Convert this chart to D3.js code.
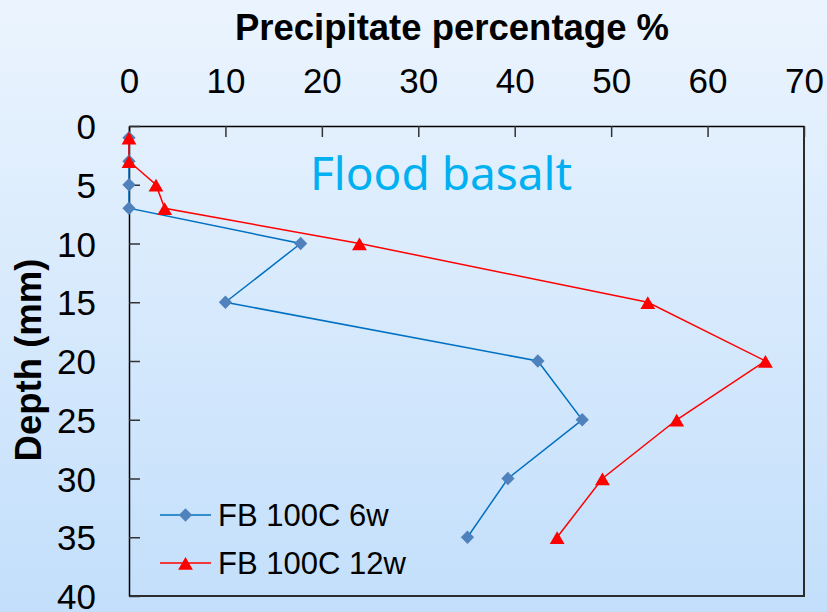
<!DOCTYPE html>
<html>
<head>
<meta charset="utf-8">
<script src="https://cdn.jsdelivr.net/npm/d3@7"></script>
<style>
  body { margin: 0; }
  text { font-family: "Liberation Sans", Arial, sans-serif; }
</style>
</head>
<body>
<div id="chart"></div>
<script>
var svgwidth = 827;
var svgheight = 612;

// data
var depth = [1, 3, 5, 7, 10, 15, 20, 25, 30, 35];
var fb6w = [0, 0, 0, 0, 17.8, 10, 42.4, 47, 39.3, 35.1];
var fb12w = [0, 0, 2.8, 3.7, 23.9, 53.8, 66, 56.8, 49.1, 44.4];
var xticks = [0, 10, 20, 30, 40, 50, 60, 70];
var yticks = [0, 5, 10, 15, 20, 25, 30, 35, 40];
var seriesNames = ["FB 100C 6w", "FB 100C 12w"];

var plot = { left: 129, right: 804, top: 126, bottom: 596 };

var svg = d3.select("#chart")
    .append("svg")
    .attr("width", svgwidth)
    .attr("height", svgheight);

var grad = svg.append("defs").append("linearGradient")
    .attr("id", "bg")
    .attr("x1", 0).attr("y1", 0).attr("x2", 0).attr("y2", 1);
grad.append("stop").attr("offset", "0%").attr("stop-color", "#ebf4fe");
grad.append("stop").attr("offset", "100%").attr("stop-color", "#c3dffb");

svg.append("rect")
    .attr("width", svgwidth)
    .attr("height", svgheight)
    .attr("fill", "url(#bg)");

var xscale = d3.scaleLinear().domain([0, 70]).range([plot.left, plot.right]);
var yscale = d3.scaleLinear().domain([0, 40]).range([plot.top, plot.bottom]);

// frame on right and bottom
svg.append("path")
    .attr("d", "M" + xscale(70) + "," + yscale(0) + "V" + yscale(40) + "H" + xscale(0))
    .attr("fill", "none")
    .attr("stroke", "#2b2b2b")
    .attr("stroke-width", 2);

var topaxis = d3.axisTop(xscale)
    .tickValues(xticks)
    .tickSizeInner(-11)
    .tickSizeOuter(0)
    .tickPadding(33);

var leftaxis = d3.axisLeft(yscale)
    .tickValues(yticks)
    .tickSizeInner(-11)
    .tickSizeOuter(0)
    .tickPadding(33);

var gx = svg.append("g")
    .attr("transform", "translate(0," + plot.top + ")")
    .call(topaxis);

var gy = svg.append("g")
    .attr("transform", "translate(" + plot.left + ",0)")
    .call(leftaxis);

[gx, gy].forEach(function(g) {
    g.select(".domain").attr("stroke", "#000").attr("stroke-width", 1.5);
    g.selectAll(".tick line").attr("stroke", "#333").attr("stroke-width", 1.5);
    g.selectAll(".tick text")
        .attr("fill", "#000")
        .style("font-size", "35px")
        .style("font-family", "'Liberation Sans', Arial, sans-serif");
});
gy.selectAll(".tick text").attr("dy", "0.36em");

// axis titles
svg.append("text")
    .attr("x", 452)
    .attr("y", 40)
    .attr("text-anchor", "middle")
    .style("font-size", "36.5px")
    .style("font-weight", "bold")
    .text("Precipitate percentage %");

svg.append("text")
    .attr("transform", "translate(41,360) rotate(-90)")
    .attr("text-anchor", "middle")
    .style("font-size", "36.5px")
    .style("font-weight", "bold")
    .text("Depth (mm)");

svg.append("text")
    .attr("x", 310)
    .attr("y", 190)
    .attr("fill", "#00b0f0")
    .style("font-family", "'Noto Sans', 'Open Sans', sans-serif")
    .style("font-size", "46px")
    .text("Flood basalt");

var line = d3.line()
    .x(function(d) { return xscale(d[0]); })
    .y(function(d) { return yscale(d[1]); });

var blueData = depth.map(function(d, i) { return [fb6w[i], d]; });
var redData = depth.map(function(d, i) { return [fb12w[i], d]; });

var diamond = d3.symbol().type(d3.symbolDiamond2).size(112);
var triangle = d3.symbol().type(d3.symbolTriangle).size(95);

svg.append("path")
    .datum(blueData)
    .attr("d", line)
    .attr("fill", "none")
    .attr("stroke", "#0070c0")
    .attr("stroke-width", 1.5);

svg.append("path")
    .datum(redData)
    .attr("d", line)
    .attr("fill", "none")
    .attr("stroke", "#ff0000")
    .attr("stroke-width", 1.5);

svg.selectAll(".blue")
    .data(blueData)
    .enter()
    .append("path")
    .attr("class", "blue")
    .attr("d", diamond)
    .attr("transform", function(d) { return "translate(" + xscale(d[0]) + "," + yscale(d[1]) + ")"; })
    .attr("fill", "#4f81bd");

svg.selectAll(".red")
    .data(redData)
    .enter()
    .append("path")
    .attr("class", "red")
    .attr("d", triangle)
    .attr("transform", function(d) { return "translate(" + xscale(d[0]) + "," + (yscale(d[1]) + 2.5) + ")"; })
    .attr("fill", "#ff0000");

// legend
var legend = [
    { name: seriesNames[0], color: "#0070c0", fill: "#4f81bd", sym: diamond, y: 515, dy: 0 },
    { name: seriesNames[1], color: "#ff0000", fill: "#ff0000", sym: triangle, y: 563, dy: 2.5 }
];

legend.forEach(function(l) {
    svg.append("line")
        .attr("x1", 160).attr("x2", 211)
        .attr("y1", l.y).attr("y2", l.y)
        .attr("stroke", l.color)
        .attr("stroke-width", 1.5);
    svg.append("path")
        .attr("d", l.sym)
        .attr("transform", "translate(185.5," + (l.y + l.dy) + ")")
        .attr("fill", l.fill);
    svg.append("text")
        .attr("x", 218)
        .attr("y", l.y)
        .attr("dy", "0.36em")
        .style("font-size", "31px")
        .text(l.name);
});
</script>
</body>
</html>
